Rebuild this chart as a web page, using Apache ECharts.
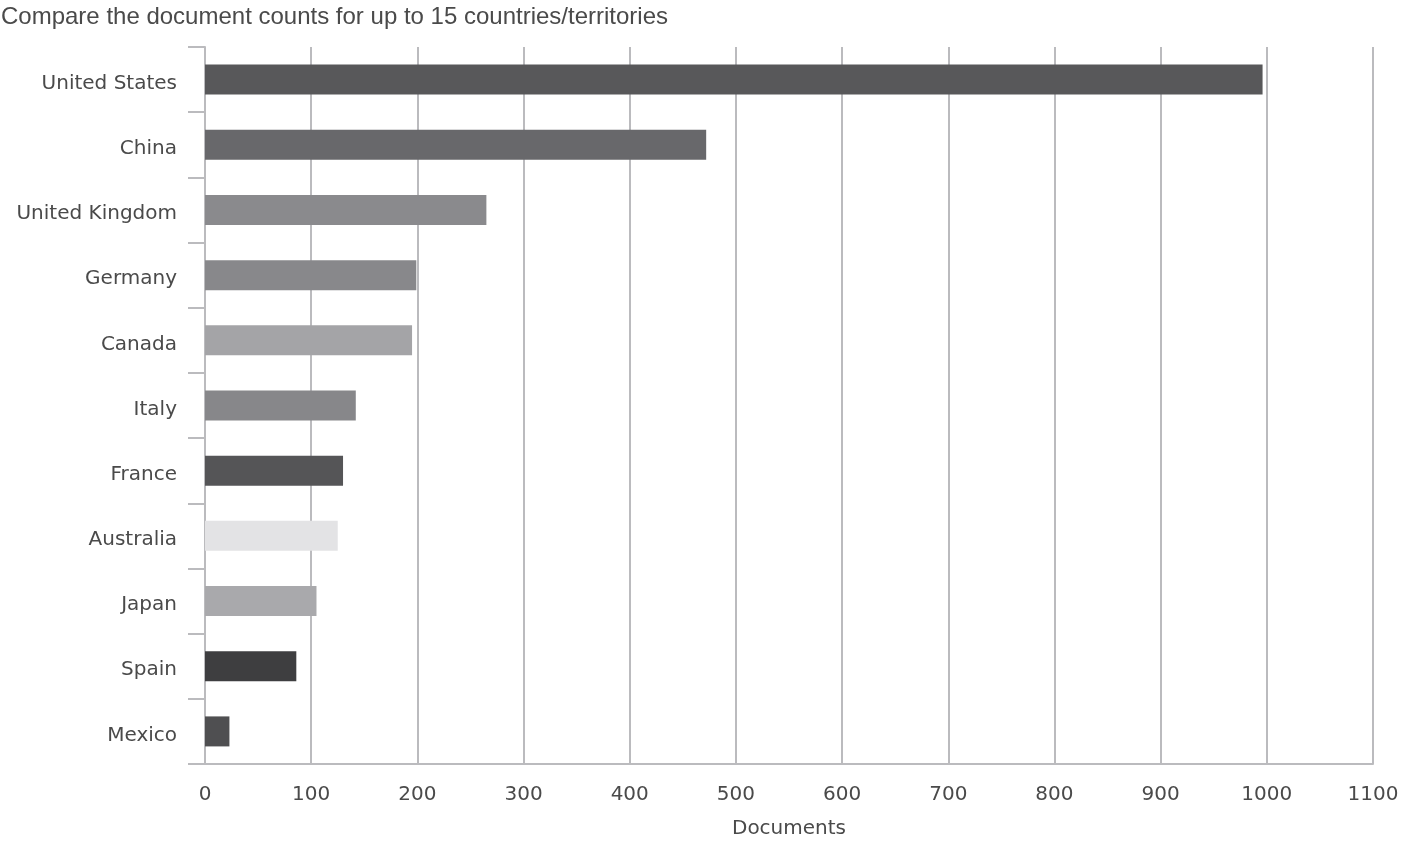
<!DOCTYPE html>
<html>
<head>
<meta charset="utf-8">
<script src="https://cdn.jsdelivr.net/npm/echarts@6/dist/echarts.min.js"></script>
<style>html,body{margin:0;padding:0;background:#fff;}#c{width:1407px;height:852px;}</style>
</head>
<body>
<div id="c"></div>
<script>
var categories = ["United States","China","United Kingdom","Germany","Canada","Italy","France","Australia","Japan","Spain","Mexico"];
var documents = [996, 472, 265, 199, 195, 142, 130, 125, 105, 86, 23];
var barColors = ["#58585a","#68686b","#8a8a8d","#88888b","#a4a4a7","#87878a","#555557","#e3e3e5","#a9a9ac","#3e3e40","#4f4f51"];
var xTicks = [0,100,200,300,400,500,600,700,800,900,1000,1100];

var chart = echarts.init(document.getElementById('c'), null, {renderer:'canvas'});
var font = 'DejaVu Sans';
chart.setOption({
  animation: false,
  title: {
    text: 'Compare the document counts for up to 15 countries/territories',
    left: 1, top: 5, padding: 0,
    textStyle: {fontFamily: 'Liberation Sans', fontSize: 24, fontWeight: 'normal', color: '#4a4a4a'}
  },
  grid: {left: 205, right: 34, top: 47, bottom: 88, containLabel: false},
  xAxis: {
    type: 'value', min: xTicks[0], max: xTicks[xTicks.length-1], interval: 100,
    name: 'Documents', nameLocation: 'middle', nameGap: 55,
    nameTextStyle: {fontFamily: font, fontSize: 20, color: '#4a4a4a'},
    axisLine: {show: true, lineStyle: {color: '#bbbbbe', width: 2}},
    axisTick: {show: false},
    axisLabel: {fontFamily: font, fontSize: 20, color: '#4a4a4a', margin: 21,
      formatter: function(v){ return String(v); }},
    splitLine: {show: true, lineStyle: {color: '#bbbbbe', width: 2}}
  },
  yAxis: {
    type: 'category', data: categories, inverse: true,
    axisLine: {show: true, lineStyle: {color: '#bbbbbe', width: 2}},
    axisTick: {show: true, length: 17, lineStyle: {color: '#bbbbbe', width: 2}},
    axisLabel: {margin: 28,
      formatter: function(v){ return '{a|' + v + '}'; },
      rich: {a: {fontFamily: font, fontSize: 20, color: '#4a4a4a', padding: [8,0,0,0]}}},
    splitLine: {show: false}
  },
  series: [{
    type: 'bar',
    data: documents.map(function(v, i){ return {value: v, itemStyle: {color: barColors[i]}}; }),
    barWidth: 30
  }]
});
</script>
</body>
</html>
